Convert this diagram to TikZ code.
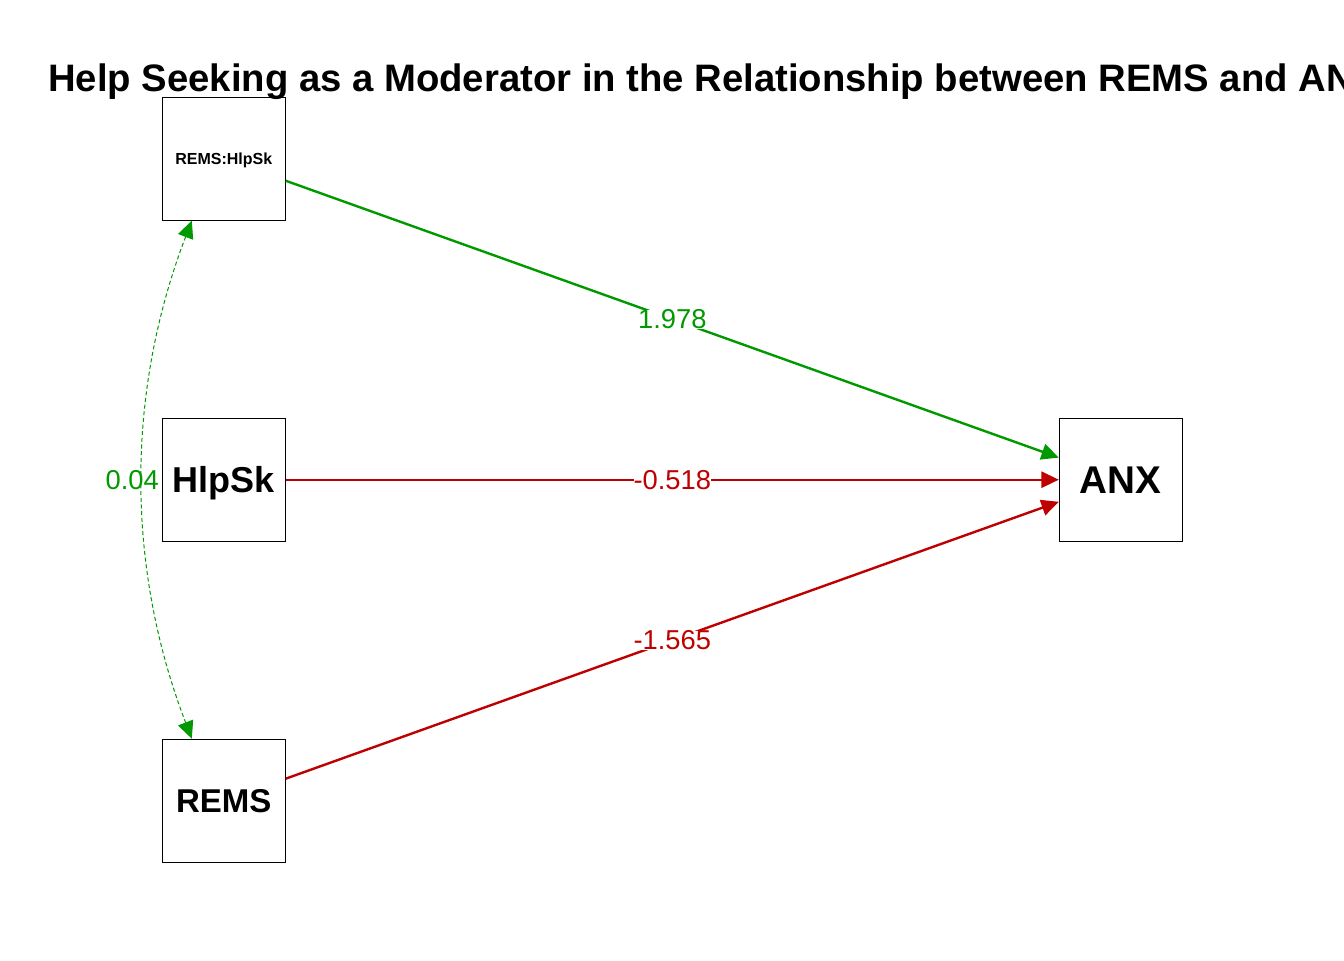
\documentclass[tikz,border=0pt]{standalone}
\usepackage{fontspec}
\setmainfont{Liberation Sans}
\usetikzlibrary{arrows.meta, calc, positioning}
\definecolor{posgreen}{HTML}{009900}
\definecolor{negred}{HTML}{BF0000}

\begin{document}
\begin{tikzpicture}[
    x=0.75pt, y=-0.75pt,
    >={Triangle[length=13pt, width=12pt]},
    varbox/.style={draw, line width=0.75pt, minimum size=92.25pt, inner sep=0pt, text depth=0pt, font=\bfseries},
    path/.style={->, line width=1.8pt},
    coef/.style={fill=white, inner sep=0pt, font=\fontsize{20.5}{24}\selectfont},
]
% page 1344 x 960 px, title runs off the right edge as in the reference
\useasboundingbox (0,0) rectangle (1344,960);
\clip (0,0) rectangle (1344,960);
\node[anchor=base west, inner sep=0pt, font=\bfseries\fontsize{28.7}{34}\selectfont] (title) at (48,91)
    {Help Seeking as a Moderator in the Relationship between REMS and ANX};
% manifest variables
\node[varbox, font=\bfseries\fontsize{27}{32}\selectfont] (hlp) at (223.8,479.7) {HlpSk};
\node[varbox, font=\bfseries\fontsize{12}{14}\selectfont, above=147.75pt of hlp] (inter) {REMS:HlpSk};
\node[varbox, font=\bfseries\fontsize{24.75}{30}\selectfont, below=147.75pt of hlp] (rems) {REMS};
\node[varbox, font=\bfseries\fontsize{29}{34}\selectfont, right=579.75pt of hlp] (anx) {ANX};
% regression paths
\draw[path, posgreen] (inter) -- node[coef] {1.978} (anx);
\draw[path, negred] (hlp) -- node[coef] {-0.518} (anx);
\draw[path, negred] (rems) -- node[coef] {-1.565} (anx);
% covariance
\coordinate (ctop) at ($(inter.south)+(-32,0)$);
\coordinate (cbot) at ($(rems.north)+(-32,0)$);
\draw[<->, posgreen, line width=0.75pt, dash pattern=on 3pt off 2pt]
    (ctop) .. controls ($(ctop)+(-66,172)$) and ($(cbot)+(-66,-172)$) .. (cbot)
    node[pos=0.5, xshift=-7.5pt, inner sep=0pt, font=\fontsize{20.5}{24}\selectfont] {0.04};
\end{tikzpicture}
\end{document}
